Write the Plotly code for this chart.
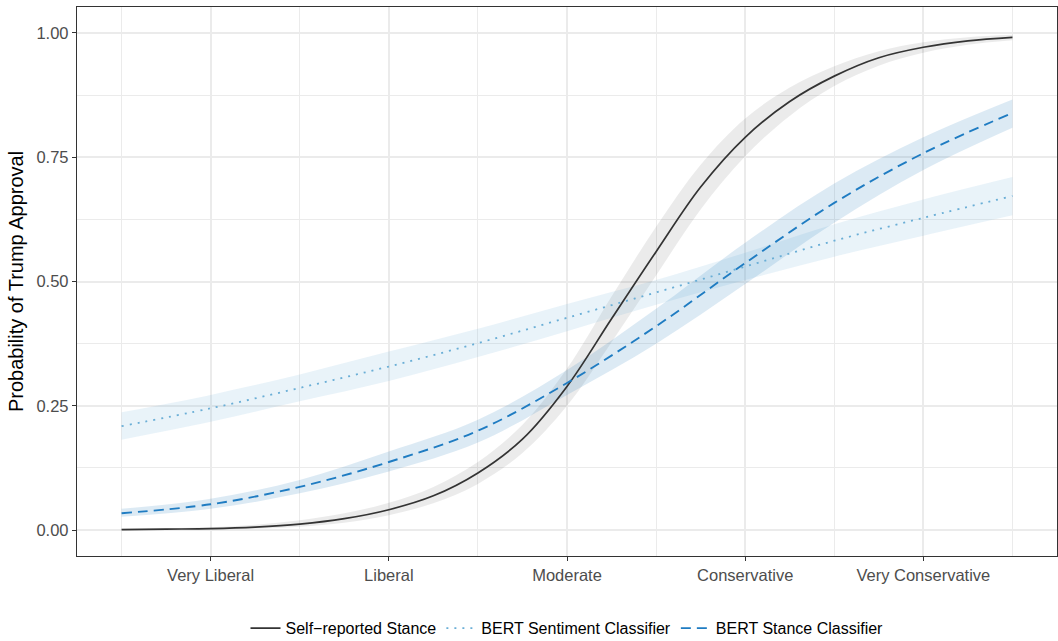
import plotly.graph_objects as go

# ---- data ----
categories = ["Very Liberal", "Liberal", "Moderate", "Conservative", "Very Conservative"]
cat_pos = [1, 2, 3, 4, 5]
x_minor = [0.5, 1.5, 2.5, 3.5, 4.5, 5.5]
y_ticks = [0.0, 0.25, 0.5, 0.75, 1.0]

# Self-reported stance (fine grid, steep curve)
x_self = [0.5, 0.75, 1.0, 1.25, 1.5, 1.75, 2.0, 2.25, 2.5, 2.75, 3.0,
          3.25, 3.5, 3.75, 4.0, 4.25, 4.5, 4.75, 5.0, 5.25, 5.5]
self_mean = [0.001, 0.002, 0.003, 0.006, 0.012, 0.023, 0.041, 0.069, 0.115, 0.183, 0.289,
             0.425, 0.560, 0.690, 0.790, 0.862, 0.913, 0.950, 0.971, 0.984, 0.991]
self_lo = [0.000, 0.001, 0.001, 0.003, 0.007, 0.015, 0.030, 0.054, 0.093, 0.155, 0.250,
           0.378, 0.512, 0.645, 0.752, 0.833, 0.893, 0.934, 0.960, 0.976, 0.985]
self_hi = [0.003, 0.004, 0.006, 0.011, 0.020, 0.034, 0.055, 0.087, 0.137, 0.212, 0.325,
           0.470, 0.610, 0.735, 0.828, 0.890, 0.933, 0.963, 0.981, 0.991, 0.996]

# BERT classifiers (half-step grid)
x_bert = [0.5, 1.0, 1.5, 2.0, 2.5, 3.0, 3.5, 4.0, 4.5, 5.0, 5.5]
sent_mean = [0.209, 0.245, 0.286, 0.329, 0.376, 0.427, 0.478, 0.530, 0.582, 0.628, 0.672]
sent_lo = [0.182, 0.218, 0.259, 0.300, 0.348, 0.400, 0.453, 0.503, 0.550, 0.592, 0.633]
sent_hi = [0.237, 0.272, 0.313, 0.359, 0.405, 0.455, 0.503, 0.558, 0.615, 0.665, 0.710]

stance_mean = [0.034, 0.052, 0.087, 0.137, 0.200, 0.296, 0.410, 0.537, 0.658, 0.758, 0.839]
stance_lo = [0.027, 0.043, 0.074, 0.118, 0.176, 0.272, 0.375, 0.495, 0.618, 0.724, 0.809]
stance_hi = [0.043, 0.063, 0.101, 0.158, 0.222, 0.322, 0.445, 0.578, 0.697, 0.790, 0.866]

series = [
    dict(name="Self\u2212reported Stance", x=x_self, m=self_mean, lo=self_lo, hi=self_hi,
         color="#333333", fill="rgba(0,0,0,0.08)", dash="solid", width=1.7),
    dict(name="BERT Sentiment Classifier", x=x_bert, m=sent_mean, lo=sent_lo, hi=sent_hi,
         color="#6aaed6", fill="rgba(107,174,214,0.15)", dash="2px,6px", width=1.8),
    dict(name="BERT Stance Classifier", x=x_bert, m=stance_mean, lo=stance_lo, hi=stance_hi,
         color="#1f7cc2", fill="rgba(49,130,189,0.17)", dash="10px,6px", width=1.9),
]

fig = go.Figure()

# ribbons first
for s in series:
    fig.add_trace(go.Scatter(x=s["x"], y=s["lo"], mode="lines", line=dict(width=0, shape="spline"),
                             showlegend=False, hoverinfo="skip"))
    fig.add_trace(go.Scatter(x=s["x"], y=s["hi"], mode="lines", line=dict(width=0, shape="spline"),
                             fill="tonexty", fillcolor=s["fill"], showlegend=False, hoverinfo="skip"))

# lines
for s in series:
    fig.add_trace(go.Scatter(x=s["x"], y=s["m"], mode="lines", name=s["name"],
                             line=dict(color=s["color"], dash=s["dash"], width=s["width"], shape="spline")))

font_family = "Liberation Sans, Arial, Helvetica, sans-serif"

fig.update_layout(
    width=1058, height=641,
    margin=dict(l=77, r=1, t=7, b=85, autoexpand=False),
    paper_bgcolor="white", plot_bgcolor="white",
    font=dict(family=font_family, size=16, color="black"),
    legend=dict(orientation="h", x=0.5, xanchor="center",
                yref="container", y=0.02, yanchor="middle",
                traceorder="normal",
                font=dict(size=16, color="black"), itemwidth=30, tracegroupgap=0),
)

fig.update_xaxes(
    range=[0.25, 5.75],
    tickmode="array", tickvals=cat_pos, ticktext=categories,
    tickfont=dict(size=16.5, color="#4d4d4d"),
    ticks="outside", ticklen=4, tickcolor="#333333", tickwidth=1.2,
    showgrid=True, gridcolor="#ebebeb", gridwidth=1.6,
    minor=dict(tickmode="array", tickvals=x_minor, showgrid=True, gridcolor="#ebebeb", gridwidth=0.9, ticks=""),
    showline=True, linecolor="#333333", linewidth=1.3, mirror=True,
    zeroline=False,
)
fig.update_yaxes(
    range=[-0.052, 1.052],
    tickmode="array", tickvals=y_ticks, ticktext=[f"{v:.2f}" for v in y_ticks],
    tickfont=dict(size=16.5, color="#4d4d4d"),
    ticks="outside", ticklen=4, tickcolor="#333333", tickwidth=1.2,
    showgrid=True, gridcolor="#ebebeb", gridwidth=1.6,
    minor=dict(tickmode="array", tickvals=[0.125, 0.375, 0.625, 0.875], showgrid=True,
               gridcolor="#ebebeb", gridwidth=0.9, ticks=""),
    showline=True, linecolor="#333333", linewidth=1.3, mirror=True,
    zeroline=False,
    title=dict(text="Probability of Trump Approval", font=dict(size=20, color="black"), standoff=7),
)

fig.write_html("out.html", config={"displayModeBar": False},
               post_script="document.body.style.margin='0';document.body.style.overflow='hidden';")
